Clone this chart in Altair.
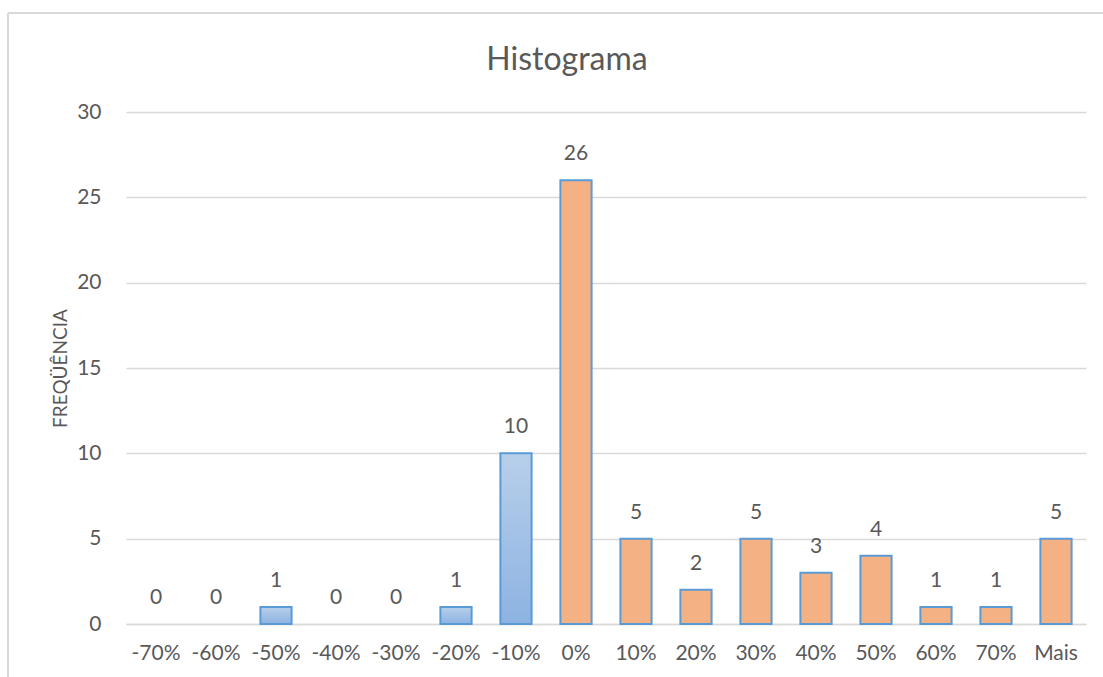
import altair as alt
import pandas as pd

categorias = ["-70%", "-60%", "-50%", "-40%", "-30%", "-20%", "-10%", "0%",
              "10%", "20%", "30%", "40%", "50%", "60%", "70%", "Mais"]
frequencias = [0, 0, 1, 0, 0, 1, 10, 26, 5, 2, 5, 3, 4, 1, 1, 5]
titulo = ["Histograma"]

df = pd.DataFrame({"cat": categorias, "freq": frequencias})
df["neg"] = df["cat"].str.startswith("-")

FONT = "Lato"
GRAY = "#595959"

x_enc = alt.X("cat:N", sort=categorias, title=None,
              scale=alt.Scale(paddingInner=0.48, paddingOuter=0.24),
              axis=alt.Axis(labelAngle=0, labelFontSize=21, labelColor=GRAY,
                            labelFont=FONT, ticks=False, domain=True,
                            domainColor="#d9d9d9", domainWidth=1.5,
                            labelBaseline="alphabetic", labelPadding=35))
y_enc = alt.Y("freq:Q", title="FREQÜÊNCIA",
              scale=alt.Scale(domain=[0, 30]),
              axis=alt.Axis(values=[0, 5, 10, 15, 20, 25, 30], labelFontSize=21,
                            labelColor=GRAY, labelFont=FONT, ticks=False,
                            domain=False, gridColor="#d9d9d9", gridWidth=1.5,
                            labelPadding=25, titleFont=FONT, titleFontSize=19,
                            titleColor=GRAY, titleFontWeight="normal",
                            titlePadding=6))

base = alt.Chart(df).encode(x=x_enc, y=y_enc)

blue_grad = alt.Gradient(gradient="linear", x1=0, y1=0, x2=0, y2=1,
                         stops=[alt.GradientStop(color="#b7cfea", offset=0),
                                alt.GradientStop(color="#8db3e2", offset=1)])

bars_neg = base.transform_filter("datum.neg && datum.freq > 0").mark_bar(
    fill=blue_grad, stroke="#5b9bd5", strokeWidth=2)
bars_pos = base.transform_filter("!datum.neg && datum.freq > 0").mark_bar(
    fill="#f4b183", stroke="#5b9bd5", strokeWidth=2)

labels = base.mark_text(font=FONT, fontSize=21, color=GRAY, dy=-20,
                        baseline="alphabetic").encode(text="freq:Q")

title_df = pd.DataFrame({"t": titulo})
title_mark = alt.Chart(title_df).mark_text(
    font=FONT, fontSize=32, color=GRAY, baseline="middle", align="center"
).encode(text="t:N", x=alt.value(441), y=alt.value(-52))

frame_top = alt.Chart(title_df).mark_rule(color="#d9d9d9", strokeWidth=2).encode(
    x=alt.value(-118), x2=alt.value(977), y=alt.value(-99))
frame_left = alt.Chart(title_df).mark_rule(color="#d9d9d9", strokeWidth=2).encode(
    x=alt.value(-118), y=alt.value(-99), y2=alt.value(565))

chart = alt.layer(frame_top, frame_left, bars_neg, bars_pos, labels,
                  title_mark).properties(
    width=960, height=512,
    background="white",
    autosize=alt.AutoSizeParams(type="none"),
    padding={"left": 126, "top": 112, "right": 17, "bottom": 53},
).configure_view(strokeWidth=0, stroke="transparent")

chart.save("out.html", embed_options={"renderer": "svg", "actions": False})
